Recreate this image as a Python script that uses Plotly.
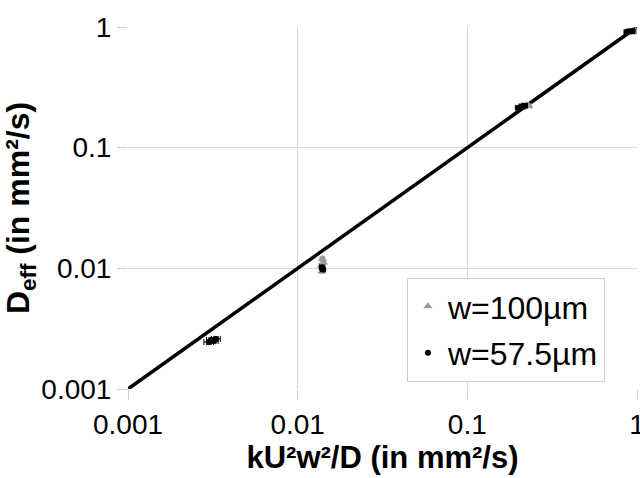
import plotly.graph_objects as go

# Reference line y = x
line_x = [0.001, 1.0]
line_y = [0.001, 1.0]

# w = 100 µm (grey triangles)
w100_x = [0.0031, 0.0139, 0.0141, 0.0138, 0.0142, 0.0140, 0.212, 0.222, 0.230, 0.93, 0.96, 0.98]
w100_y = [0.00255, 0.0095, 0.0100, 0.0105, 0.0112, 0.0120, 0.218, 0.224, 0.222, 0.905, 0.92, 0.93]
w100_ex = [0.0002, 0.0004, 0.0004, 0.0004, 0.0004, 0.0004, 0.008, 0.008, 0.008, 0.03, 0.03, 0.02]
w100_ey = [0.0001, 0.0004, 0.0004, 0.0004, 0.0004, 0.0004, 0.006, 0.006, 0.006, 0.02, 0.02, 0.02]

# w = 57.5 µm (black dots)
w57_x = [0.0030, 0.0031, 0.0032, 0.0033, 0.0141, 0.0139, 0.200, 0.210, 0.218, 0.87, 0.90, 0.94]
w57_y = [0.00245, 0.00255, 0.00250, 0.00260, 0.0098, 0.0102, 0.214, 0.220, 0.223, 0.91, 0.92, 0.925]
w57_ex = [0.0002, 0.0002, 0.0002, 0.0002, 0.0004, 0.0004, 0.008, 0.008, 0.008, 0.03, 0.03, 0.03]
w57_ey = [0.0001, 0.0001, 0.0001, 0.0001, 0.0003, 0.0003, 0.006, 0.006, 0.006, 0.02, 0.02, 0.02]

tick_vals = [0.001, 0.01, 0.1, 1]
tick_text = ["0.001", "0.01", "0.1", "1"]

fig = go.Figure()

fig.add_trace(go.Scatter(
    x=line_x, y=line_y, mode="lines",
    line=dict(color="black", width=3.5), showlegend=False, hoverinfo="skip"))

fig.add_trace(go.Scatter(
    x=w100_x, y=w100_y, mode="markers", name="w=100µm", legendgroup="a",
    marker=dict(symbol="triangle-up", color="#9a9a9a", size=8),
    error_x=dict(type="data", array=w100_ex, color="#9a9a9a", thickness=1, width=3),
    error_y=dict(type="data", array=w100_ey, color="#9a9a9a", thickness=1, width=3)))

fig.add_trace(go.Scatter(
    x=w57_x, y=w57_y, mode="markers", name="w=57.5µm", legendgroup="b",
    marker=dict(symbol="circle", color="black", size=6),
    error_x=dict(type="data", array=w57_ex, color="black", thickness=1, width=3),
    error_y=dict(type="data", array=w57_ey, color="black", thickness=1, width=3)))

font_family = "Liberation Sans, Arial, sans-serif"

fig.update_layout(
    width=640, height=478,
    margin=dict(l=128, r=3, t=27, b=89),
    paper_bgcolor="white", plot_bgcolor="white",
    font=dict(family=font_family, size=28, color="black"),
    legend=dict(
        x=0.548, y=0.307, xanchor="left", yanchor="top",
        bgcolor="white", bordercolor="#cfcfcf", borderwidth=1,
        font=dict(size=32, color="black"),
        itemsizing="trace", tracegroupgap=2),
    xaxis=dict(
        type="log", range=[-3, 0], automargin=False,
        tickvals=tick_vals, ticktext=tick_text,
        showgrid=True, gridcolor="#d9d9d9", gridwidth=1,
        showline=False,
        ticks="outside", ticklen=10, tickcolor="#d0d0d0",
        ticklabeloverflow="allow",
        zeroline=False, tickfont=dict(size=28),
        title=dict(text="<b>kU²w²/D (in mm²/s)</b>", font=dict(size=31), standoff=6)),
    yaxis=dict(
        type="log", range=[-3, 0], automargin=False,
        tickvals=tick_vals, ticktext=tick_text,
        showgrid=True, gridcolor="#d9d9d9", gridwidth=1,
        showline=False,
        ticks="outside", ticklen=10, tickcolor="#d0d0d0",
        ticklabeloverflow="allow",
        zeroline=False, tickfont=dict(size=28),
        title=dict(text="<b>D<sub>eff</sub> (in mm²/s)</b>", font=dict(size=32), standoff=8)),
)

fig.write_html("out.html")
